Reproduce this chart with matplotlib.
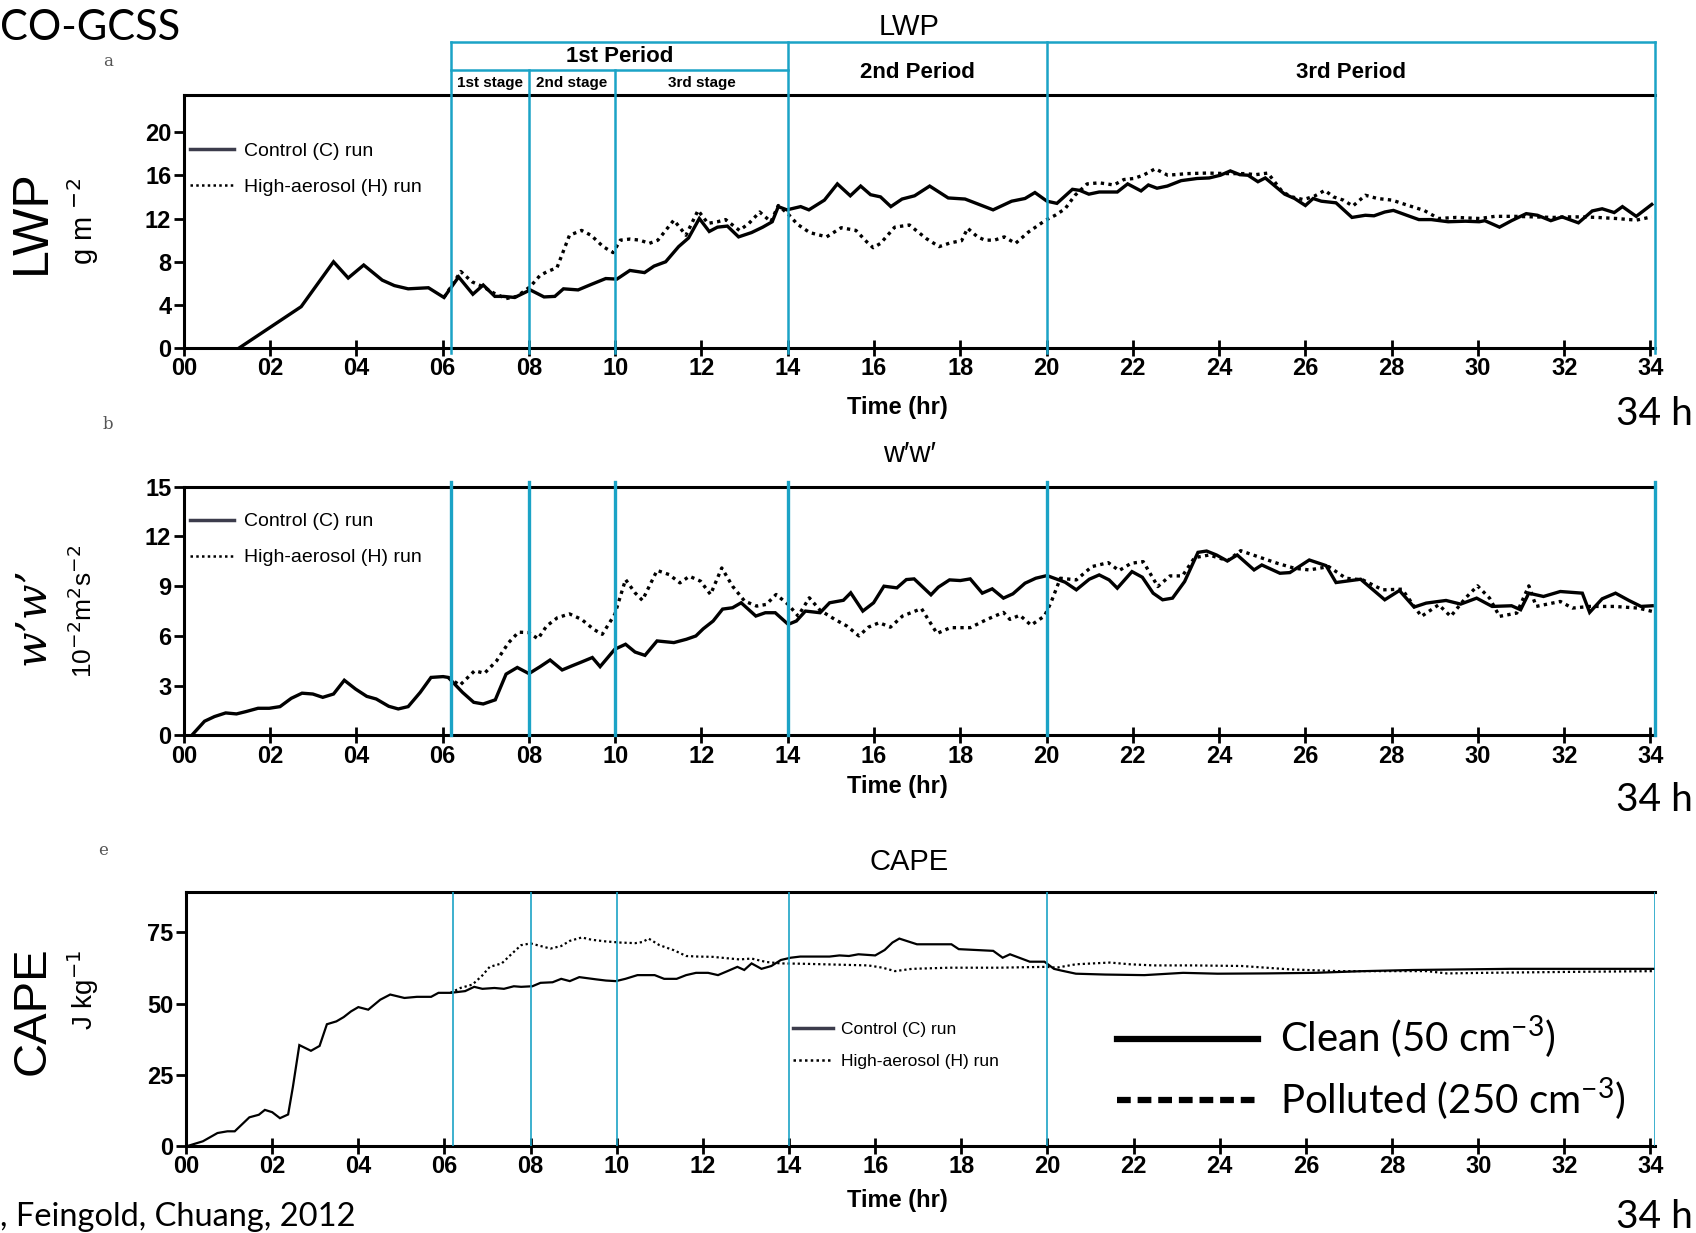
import numpy as np
import matplotlib
matplotlib.use("Agg")
import matplotlib.pyplot as plt
from matplotlib.lines import Line2D

# ---- data (time in hours, value) ----
lwp_control = [
    (1.27, 0.0), (2.72, 3.85), (3.47, 8.0), (3.81, 6.5), (4.17, 7.7), (4.6, 6.3), (4.88, 5.8),
    (5.2, 5.5), (5.67, 5.6), (6.03, 4.7), (6.37, 6.6), (6.7, 5.0), (6.94, 5.85), (7.21, 4.8),
    (7.41, 4.8), (7.67, 4.7), (8.03, 5.4), (8.35, 4.75), (8.6, 4.8), (8.8, 5.5), (9.14, 5.4),
    (9.44, 5.9), (9.78, 6.45), (10.04, 6.4), (10.34, 7.2), (10.68, 7.0), (10.9, 7.6), (11.17, 8.0),
    (11.47, 9.4), (11.7, 10.2), (11.95, 12.0), (12.18, 10.8), (12.37, 11.2), (12.6, 11.3),
    (12.86, 10.3), (13.16, 10.7), (13.42, 11.2), (13.64, 11.7), (13.78, 13.1), (13.98, 12.8),
    (14.3, 13.1), (14.49, 12.8), (14.85, 13.7), (15.15, 15.2), (15.45, 14.1), (15.69, 15.0),
    (15.92, 14.2), (16.15, 14.0), (16.39, 13.1), (16.65, 13.8), (16.94, 14.1), (17.29, 15.0),
    (17.72, 13.9), (18.11, 13.8), (18.5, 13.2), (18.76, 12.8), (19.19, 13.6), (19.5, 13.85),
    (19.73, 14.4), (20.01, 13.6), (20.24, 13.4), (20.6, 14.7), (20.77, 14.6), (20.98, 14.25),
    (21.22, 14.45), (21.64, 14.45), (21.88, 15.2), (22.19, 14.55), (22.36, 15.1), (22.56, 14.8),
    (22.8, 15.0), (23.12, 15.5), (23.49, 15.7), (23.77, 15.75), (24.03, 16.0), (24.26, 16.4),
    (24.48, 16.05), (24.67, 16.0), (24.9, 15.4), (25.07, 15.75), (25.52, 14.25), (25.75, 13.85),
    (26.0, 13.2), (26.18, 13.85), (26.37, 13.6), (26.71, 13.45), (27.08, 12.1), (27.39, 12.3),
    (27.59, 12.25), (27.84, 12.6), (28.04, 12.75), (28.35, 12.3), (28.63, 11.9), (28.92, 11.9),
    (29.31, 11.7), (29.71, 11.75), (30.03, 11.7), (30.16, 11.8), (30.5, 11.2), (30.78, 11.8),
    (31.12, 12.45), (31.38, 12.3), (31.69, 11.8), (31.95, 12.15), (32.33, 11.6), (32.65, 12.7),
    (32.88, 12.9), (33.16, 12.55), (33.35, 13.1), (33.67, 12.2), (34.03, 13.3),
]
lwp_high = [
    (6.03, 4.7), (6.42, 7.1), (6.68, 6.15), (6.93, 5.7), (7.19, 5.1), (7.47, 4.6), (7.72, 4.8),
    (8.03, 5.7), (8.26, 6.75), (8.43, 7.1), (8.65, 7.45), (8.94, 10.45), (9.22, 10.9),
    (9.44, 10.45), (9.72, 9.4), (9.95, 8.85), (10.12, 10.0), (10.34, 10.1), (10.57, 10.0),
    (10.79, 9.7), (10.99, 10.0), (11.36, 11.85), (11.64, 10.45), (11.92, 12.75), (12.15, 11.55),
    (12.37, 11.7), (12.56, 11.9), (12.88, 10.9), (13.1, 11.55), (13.35, 12.6), (13.61, 11.7),
    (13.78, 13.2), (14.0, 12.45), (14.23, 11.45), (14.51, 10.7), (14.9, 10.3), (15.24, 11.15),
    (15.58, 10.9), (15.83, 9.85), (15.98, 9.3), (16.15, 9.7), (16.48, 11.2), (16.82, 11.4),
    (17.21, 10.15), (17.51, 9.4), (17.77, 9.75), (18.03, 9.95), (18.17, 11.1), (18.4, 10.3),
    (18.57, 10.0), (18.79, 10.0), (19.02, 10.3), (19.28, 9.7), (19.58, 10.75), (19.98, 11.85),
    (20.2, 12.3), (20.43, 12.9), (20.66, 14.15), (20.94, 15.2), (21.22, 15.3), (21.56, 15.1),
    (21.79, 15.6), (22.02, 15.7), (22.24, 16.0), (22.52, 16.6), (22.81, 16.0), (23.26, 16.15),
    (23.71, 16.2), (24.22, 16.15), (24.62, 16.15), (24.84, 16.05), (25.13, 16.2), (25.47, 14.45),
    (25.69, 14.0), (25.95, 13.75), (26.2, 14.05), (26.45, 14.6), (26.65, 14.0), (26.88, 13.7),
    (27.1, 13.15), (27.39, 14.15), (27.67, 13.85), (28.01, 13.7), (28.35, 13.25), (28.75, 12.75),
    (29.09, 12.0), (29.49, 12.1), (30.05, 12.0), (30.39, 12.2), (30.84, 12.2), (31.3, 12.15),
    (31.75, 12.1), (32.08, 12.15), (32.42, 12.15), (32.76, 12.1), (33.21, 12.0), (33.67, 11.85),
    (34.03, 12.15),
]
ww_control = [
    (0.18, 0.0), (0.48, 0.86), (0.71, 1.14), (0.97, 1.36), (1.22, 1.3), (1.44, 1.44), (1.72, 1.64),
    (1.98, 1.64), (2.23, 1.74), (2.49, 2.24), (2.74, 2.55), (2.99, 2.5), (3.22, 2.3), (3.47, 2.5),
    (3.72, 3.33), (3.98, 2.8), (4.24, 2.36), (4.46, 2.2), (4.75, 1.76), (4.97, 1.6), (5.2, 1.74),
    (5.48, 2.6), (5.73, 3.5), (6.01, 3.55), (6.13, 3.5), (6.46, 2.6), (6.72, 2.0), (6.94, 1.9),
    (7.22, 2.15), (7.47, 3.7), (7.73, 4.1), (8.0, 3.73), (8.26, 4.15), (8.49, 4.55), (8.77, 3.95),
    (9.0, 4.2), (9.22, 4.43), (9.47, 4.7), (9.65, 4.15), (9.99, 5.2), (10.24, 5.5), (10.46, 5.03),
    (10.69, 4.83), (10.97, 5.7), (11.36, 5.6), (11.65, 5.8), (11.87, 6.0), (12.04, 6.43),
    (12.27, 6.9), (12.49, 7.62), (12.72, 7.7), (12.92, 8.0), (13.26, 7.2), (13.48, 7.4),
    (13.71, 7.4), (14.01, 6.7), (14.2, 6.9), (14.41, 7.5), (14.75, 7.4), (14.97, 8.0),
    (15.29, 8.15), (15.46, 8.6), (15.74, 7.5), (15.99, 8.0), (16.23, 9.0), (16.53, 8.9),
    (16.75, 9.4), (16.93, 9.44), (17.32, 8.48), (17.49, 8.94), (17.75, 9.38), (18.0, 9.34),
    (18.23, 9.44), (18.51, 8.58), (18.74, 8.84), (19.0, 8.28), (19.22, 8.54), (19.5, 9.18),
    (19.75, 9.48), (20.01, 9.64), (20.43, 9.24), (20.69, 8.78), (20.99, 9.42), (21.22, 9.68),
    (21.45, 9.38), (21.64, 8.88), (21.98, 9.88), (22.22, 9.54), (22.47, 8.58), (22.69, 8.18),
    (22.92, 8.28), (23.2, 9.28), (23.51, 11.04), (23.71, 11.12), (23.94, 10.88), (24.19, 10.52),
    (24.42, 10.88), (24.81, 9.98), (24.99, 10.28), (25.41, 9.78), (25.64, 9.82), (26.09, 10.58),
    (26.48, 10.24), (26.71, 9.22), (27.28, 9.42), (27.84, 8.18), (28.18, 8.74), (28.52, 7.74),
    (28.8, 7.98), (29.26, 8.14), (29.6, 7.92), (29.97, 8.28), (30.33, 7.78), (30.78, 7.82),
    (30.99, 7.58), (31.18, 8.58), (31.52, 8.38), (31.91, 8.68), (32.42, 8.58), (32.59, 7.42),
    (32.88, 8.24), (33.19, 8.58), (33.5, 8.14), (33.78, 7.78), (34.04, 7.82),
]
ww_high = [
    (6.13, 3.5), (6.4, 3.03), (6.74, 3.9), (6.97, 3.75), (7.25, 4.5), (7.53, 5.6), (7.76, 6.23),
    (8.0, 6.2), (8.21, 5.83), (8.41, 6.6), (8.66, 7.1), (8.94, 7.33), (9.22, 7.0), (9.5, 6.4),
    (9.7, 6.1), (9.99, 7.3), (10.24, 9.4), (10.46, 8.6), (10.63, 8.15), (10.97, 9.95),
    (11.25, 9.7), (11.5, 9.2), (11.72, 9.6), (11.98, 9.3), (12.21, 8.5), (12.47, 10.1),
    (12.72, 9.0), (13.0, 8.1), (13.28, 7.8), (13.5, 7.9), (13.73, 8.5), (14.01, 7.9),
    (14.24, 7.2), (14.5, 8.3), (14.75, 7.55), (15.09, 7.0), (15.37, 6.6), (15.65, 6.0),
    (15.87, 6.53), (16.12, 6.8), (16.38, 6.53), (16.66, 7.2), (17.1, 7.65), (17.46, 6.15),
    (17.77, 6.5), (18.23, 6.5), (18.62, 7.0), (19.0, 7.42), (19.15, 7.0), (19.38, 7.25),
    (19.64, 6.65), (19.95, 7.2), (20.1, 8.0), (20.32, 9.48), (20.69, 9.38), (21.05, 10.18),
    (21.43, 10.42), (21.68, 9.94), (21.96, 10.38), (22.24, 10.48), (22.58, 8.98), (22.86, 9.62),
    (23.15, 9.62), (23.43, 10.72), (23.77, 10.88), (24.2, 10.54), (24.5, 11.14), (24.9, 10.78),
    (25.35, 10.38), (25.75, 10.08), (26.09, 9.98), (26.54, 10.18), (26.94, 9.48), (27.33, 9.38),
    (27.79, 8.78), (28.24, 8.82), (28.69, 7.18), (29.09, 7.88), (29.37, 7.18), (29.71, 8.28),
    (29.99, 9.02), (30.27, 8.28), (30.5, 7.18), (30.9, 7.38), (31.18, 9.02), (31.35, 7.78),
    (31.91, 8.08), (32.19, 7.68), (32.59, 7.78), (33.16, 7.78), (33.72, 7.68), (34.04, 7.48),
]
cape_control = [
    (0.0, 0.0), (0.39, 1.8), (0.73, 4.7), (0.96, 5.3), (1.13, 5.3), (1.47, 10.2), (1.69, 11.1),
    (1.83, 12.8), (2.0, 12.0), (2.18, 9.9), (2.37, 11.2), (2.48, 20.8), (2.63, 35.5), (2.9, 33.5),
    (3.1, 35.2), (3.27, 42.8), (3.49, 43.8), (3.66, 45.3), (3.83, 47.3), (4.0, 48.8), (4.23, 47.9),
    (4.51, 51.4), (4.74, 53.2), (5.07, 52.0), (5.36, 52.4), (5.69, 52.4), (5.86, 53.8),
    (6.14, 53.8), (6.48, 54.4), (6.69, 55.9), (6.88, 55.2), (7.16, 55.5), (7.38, 55.2),
    (7.61, 56.1), (7.78, 55.9), (8.04, 56.1), (8.23, 57.3), (8.51, 57.5), (8.71, 58.7),
    (8.91, 57.9), (9.13, 59.3), (9.53, 58.5), (9.75, 58.1), (9.98, 57.9), (10.2, 58.7),
    (10.48, 60.0), (10.88, 60.0), (11.1, 58.7), (11.39, 58.7), (11.61, 60.0), (11.84, 60.8),
    (12.12, 60.8), (12.35, 60.0), (12.57, 61.4), (12.8, 62.9), (12.96, 61.8), (13.13, 64.1),
    (13.36, 62.2), (13.59, 63.2), (13.81, 65.3), (14.04, 66.1), (14.26, 66.5), (14.94, 66.5),
    (15.17, 66.9), (15.39, 66.7), (15.61, 67.3), (16.0, 66.9), (16.22, 68.8), (16.4, 71.4),
    (16.56, 72.8), (16.97, 70.8), (17.77, 70.8), (17.94, 69.1), (18.74, 68.5), (18.96, 66.1),
    (19.13, 67.3), (19.59, 64.7), (19.93, 64.7), (20.15, 62.2), (20.32, 61.6), (20.66, 60.5),
    (21.34, 60.2), (22.25, 60.0), (23.15, 60.8), (23.95, 60.5), (25.08, 60.6), (26.21, 60.8),
    (27.34, 61.4), (28.48, 61.8), (29.61, 62.0), (30.74, 62.2), (32.44, 62.2), (34.08, 62.2),
]
cape_high = [
    (6.14, 53.8), (6.37, 55.5), (6.65, 56.7), (6.88, 59.9), (7.05, 62.9), (7.33, 64.1),
    (7.55, 67.3), (7.78, 70.5), (8.0, 71.1), (8.23, 70.2), (8.46, 69.3), (8.71, 70.2),
    (8.91, 72.0), (9.19, 73.2), (9.41, 72.4), (9.75, 71.8), (10.09, 71.4), (10.43, 71.2),
    (10.6, 71.6), (10.74, 72.8), (10.99, 70.5), (11.33, 68.7), (11.61, 66.7), (11.89, 66.5),
    (12.23, 66.4), (12.57, 65.9), (12.85, 65.5), (13.13, 65.8), (13.47, 64.6), (13.81, 64.1),
    (14.26, 64.0), (15.84, 63.4), (16.17, 62.6), (16.46, 61.4), (16.85, 62.2), (17.72, 62.6),
    (18.85, 62.6), (19.98, 62.9), (20.21, 62.6), (20.66, 63.8), (21.45, 64.4), (21.91, 63.8),
    (22.47, 63.4), (23.38, 63.4), (24.51, 63.2), (25.64, 62.0), (26.77, 61.4), (27.91, 61.4),
    (28.81, 61.4), (29.27, 60.6), (30.17, 60.8), (31.87, 61.1), (34.08, 61.4),
]

hours = list(range(0, 35, 2))
hour_labels = ["%02d" % h for h in hours]
boundaries = [6.2, 8.0, 10.0, 14.0, 20.0, 34.1]

CYAN = "#1ba3c6"
NARROW = ["Liberation Sans Narrow", "Liberation Sans", "DejaVu Sans"]
SANS = ["Liberation Sans", "DejaVu Sans"]
GILL = ["Lato", "DejaVu Sans"]
DOT = (0, (1.0, 1.3))

fig = plt.figure(figsize=(16.96, 12.33), dpi=100)

ax_a = fig.add_axes([0.1084, 0.7175, 0.8673, 0.2053])
ax_b = fig.add_axes([0.1084, 0.4035, 0.8673, 0.2018])
ax_c = fig.add_axes([0.1097, 0.0702, 0.8660, 0.2061])


def style_axes(ax, ymax, yticks):
    ax.set_xlim(0, 34.1)
    ax.set_ylim(0, ymax)
    ax.set_xticks(hours)
    ax.set_xticklabels(hour_labels)
    ax.set_yticks(yticks)
    ax.spines["right"].set_visible(False)
    for s in ["top", "bottom", "left"]:
        ax.spines[s].set_linewidth(2.2)
    ax.tick_params(axis="x", direction="inout", length=11, width=2, pad=1)
    ax.tick_params(axis="y", direction="out", length=7, width=2, pad=2)
    for lab in ax.get_xticklabels() + ax.get_yticklabels():
        lab.set_family(NARROW)
        lab.set_fontweight("bold")
        lab.set_fontsize(17)


def run_legend(ax, anchor, size):
    handles = [Line2D([], [], color="#3c3c4c", lw=2.5),
               Line2D([], [], color="black", lw=1.8, ls=DOT)]
    return ax.legend(handles, ["Control (C) run", "High-aerosol (H) run"],
                     loc="upper left", bbox_to_anchor=anchor, frameon=False,
                     handlelength=2.3, handletextpad=0.5, labelspacing=0.95,
                     borderaxespad=0, borderpad=0,
                     prop={"family": NARROW, "size": size})


def plot_runs(ax, control, high, lw):
    c = np.array(control)
    h = np.array(high)
    ax.plot(c[:, 0], c[:, 1], color="black", lw=lw, solid_joinstyle="miter", zorder=3)
    ax.plot(h[:, 0], h[:, 1], color="black", lw=lw, ls=DOT, zorder=3)


# ---- panel a : LWP ----
plot_runs(ax_a, lwp_control, lwp_high, 2.4)
style_axes(ax_a, 23.4, [0, 4, 8, 12, 16, 20])
xt = ax_a.get_xaxis_transform()
header_top, header_mid = 1.209, 1.098
for b in boundaries:
    top = header_mid if b in (8.0, 10.0) else header_top
    ax_a.axvline(b, ymin=-0.02, ymax=top, color=CYAN, lw=1.8, clip_on=False, zorder=4)
ax_a.plot([6.2, 34.1], [header_top, header_top], color=CYAN, lw=1.8, transform=xt, clip_on=False)
ax_a.plot([6.2, 14.0], [header_mid, header_mid], color=CYAN, lw=1.8, transform=xt, clip_on=False)
ax_a.text(10.1, 1.154, "1st Period", transform=xt, ha="center", va="center",
          family=SANS, fontweight="bold", fontsize=16)
ax_a.text(17.0, 1.09, "2nd Period", transform=xt, ha="center", va="center",
          family=SANS, fontweight="bold", fontsize=16)
ax_a.text(27.05, 1.09, "3rd Period", transform=xt, ha="center", va="center",
          family=SANS, fontweight="bold", fontsize=16)
for x, s in [(7.1, "1st stage"), (9.0, "2nd stage"), (12.0, "3rd stage")]:
    ax_a.text(x, 1.047, s, transform=xt, ha="center", va="center",
              family=NARROW, fontweight="bold", fontsize=11)
run_legend(ax_a, (0.004, 0.815), 14)

# ---- panel b : w'w' ----
plot_runs(ax_b, ww_control, ww_high, 2.4)
style_axes(ax_b, 15, [0, 3, 6, 9, 12, 15])
for b in boundaries:
    ax_b.axvline(b, ymin=0, ymax=1.02, color=CYAN, lw=2.4, clip_on=False, zorder=4)
run_legend(ax_b, (0.004, 0.895), 14)

# ---- panel c : CAPE ----
plot_runs(ax_c, cape_control, cape_high, 1.6)
style_axes(ax_c, 89, [0, 25, 50, 75])
for b in boundaries:
    ax_c.axvline(b, ymin=0, ymax=1.0, color=CYAN, lw=1.2, zorder=4)
leg1 = run_legend(ax_c, (0.413, 0.49), 12.5)
ax_c.add_artist(leg1)
big = [Line2D([], [], color="black", lw=4.5),
       Line2D([], [], color="black", lw=4.5, ls=(0, (2.2, 1.1)))]
ax_c.legend(big, ["Clean (50 cm$^{\\mathregular{-3}}$)", "Polluted (250 cm$^{\\mathregular{-3}}$)"],
            loc="upper left", bbox_to_anchor=(0.634, 0.52), frameon=False,
            handlelength=3.5, handletextpad=0.55, labelspacing=0.35,
            borderaxespad=0, borderpad=0, prop={"family": GILL, "size": 29})

# ---- titles, axis labels, annotations ----
for y, s in [(0.978, "LWP"), (0.632, "w\u2032w\u2032"), (0.301, "CAPE")]:
    fig.text(0.536, y, s, ha="center", va="center", family=NARROW, fontsize=21)
for y in [0.6693, 0.3623, 0.0263]:
    fig.text(0.529, y, "Time (hr)", ha="center", va="center", family=NARROW,
             fontsize=17, fontweight="bold")
for y in [0.664, 0.351, 0.013]:
    fig.text(0.998, y, "34 h", ha="right", va="center", family=GILL, fontsize=28)
for x, y, s in [(0.0638, 0.950, "a"), (0.0638, 0.656, "b"), (0.0606, 0.3105, "e")]:
    fig.text(x, y, s, ha="center", va="center", family="DejaVu Serif", fontsize=12, color="#555555")
fig.text(0.0, 0.977, "CO-GCSS", ha="left", va="center", family=GILL, fontsize=30)
fig.text(0.0, 0.013, ", Feingold, Chuang, 2012", ha="left", va="center", family=GILL, fontsize=23.5)

fig.text(0.019, 0.820, "LWP", rotation=90, ha="center", va="center", family=SANS, fontsize=36)
fig.text(0.049, 0.820, "g m $^{-2}$", rotation=90, ha="center", va="center", family=SANS, fontsize=21)
fig.text(0.019, 0.500, "w\u2019w\u2019", rotation=90, ha="center", va="center",
         family="DejaVu Serif", style="italic", fontsize=30)
fig.text(0.049, 0.504, "10$^{-2}$m$^{2}$s$^{-2}$", rotation=90, ha="center", va="center",
         family=SANS, fontsize=19)
fig.text(0.019, 0.180, "CAPE", rotation=90, ha="center", va="center", family=SANS, fontsize=34)
fig.text(0.049, 0.197, "J kg$^{-1}$", rotation=90, ha="center", va="center", family=SANS, fontsize=20)

fig.savefig("out.png", dpi=100, facecolor="white")
